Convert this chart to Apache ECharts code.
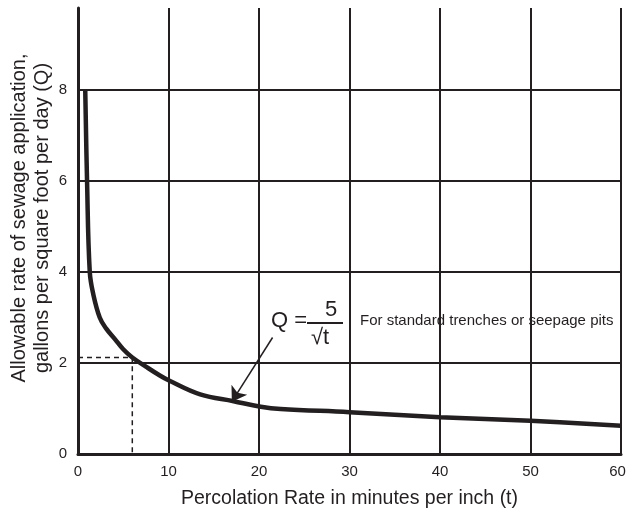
<!DOCTYPE html>
<html>
<head>
<meta charset="utf-8">
<script src="https://cdn.jsdelivr.net/npm/echarts@6/dist/echarts.min.js"></script>
<style>
  html, body { margin: 0; padding: 0; background: #fff; }
  #chart { width: 626px; height: 512px; }
</style>
</head>
<body>
<div id="chart"></div>
<script>
// curve: percolation rate t vs allowable rate Q
const tValues = [0.8, 1.0, 1.3, 1.7, 2.4, 3.1, 4.1, 5.0, 6.0, 7.5, 9, 10, 13.5, 17.2, 20.2, 22.4, 30, 40, 50, 60];
const qValues = [8, 6, 4, 3.5, 3.0, 2.76, 2.52, 2.3, 2.12, 1.92, 1.73, 1.62, 1.31, 1.16, 1.04, 0.99, 0.92, 0.81, 0.73, 0.62];

// dashed guide at t = 6
const guideT = [0, 6, 6];
const guideQ = [2.12, 2.12, 0];

// annotation arrow (from label to curve)
const arrowFrom = [21.5, 2.56];
const arrowTo = [17, 1.15];

const xTicks = [0, 10, 20, 30, 40, 50, 60];
const yTicks = [0, 2, 4, 6, 8];

const ink = "#231f20";
const font = "Liberation Sans";

const zip = (a, b) => a.map((v, i) => [v, b[i]]);
const xMax = xTicks[xTicks.length - 1];

const chart = echarts.init(document.getElementById("chart"));
chart.setOption({
  animation: false,
  backgroundColor: "#fff",
  textStyle: { fontFamily: font, color: ink },
  grid: { left: 78, right: 5, top: 8, bottom: 58, outerBoundsMode: "none", containLabel: false },
  xAxis: {
    type: "value",
    min: xTicks[0],
    max: xMax,
    interval: 10,
    name: "Percolation Rate in minutes per inch (t)",
    nameLocation: "middle",
    nameGap: 35,
    nameTextStyle: { fontSize: 19.5, color: ink, fontFamily: font },
    axisLine: { lineStyle: { color: ink, width: 3 } },
    axisTick: { show: false },
    axisLabel: {
      fontSize: 15, color: ink, margin: 10, fontFamily: font,
      formatter: (v) => (v === xMax ? "{r|" + v + "}" : String(v)),
      rich: { r: { fontSize: 15, fontFamily: font, color: ink, padding: [0, 7, 0, 0] } },
    },
    splitLine: { show: true, lineStyle: { color: ink, width: 2 } },
  },
  yAxis: {
    type: "value",
    min: yTicks[0],
    max: 9.8,
    interval: 2,
    axisLine: { show: true, lineStyle: { color: ink, width: 3 } },
    axisTick: { show: false },
    axisLabel: { fontSize: 15, color: ink, margin: 11, fontFamily: font, showMaxLabel: false },
    splitLine: { show: true, showMaxLine: false, lineStyle: { color: ink, width: 2 } },
  },
  graphic: [
    {
      type: "text",
      x: 19, y: 218, rotation: Math.PI / 2,
      style: {
        text: "Allowable rate of sewage application,",
        font: "20px " + font, fill: ink, align: "center", verticalAlign: "middle",
      },
    },
    {
      type: "text",
      x: 42, y: 218, rotation: Math.PI / 2,
      style: {
        text: "gallons per square foot per day (Q)",
        font: "20px " + font, fill: ink, align: "center", verticalAlign: "middle",
      },
    },
    {
      type: "text", x: 271, y: 321,
      style: { text: "Q =", font: "22px " + font, fill: ink, align: "left", verticalAlign: "middle" },
    },
    {
      type: "text", x: 331, y: 310,
      style: { text: "5", font: "22px " + font, fill: ink, align: "center", verticalAlign: "middle" },
    },
    {
      type: "line",
      shape: { x1: 307, y1: 323, x2: 343, y2: 323 },
      style: { stroke: ink, lineWidth: 2 },
    },
    {
      type: "text", x: 320, y: 338,
      style: { text: "\u221At", font: "22px " + font, fill: ink, align: "center", verticalAlign: "middle" },
    },
    {
      type: "text", x: 360, y: 321,
      style: {
        text: "For standard trenches or seepage pits",
        font: "15px " + font, fill: ink, align: "left", verticalAlign: "middle",
      },
    },
  ],
  series: [
    {
      type: "line",
      data: zip(guideT, guideQ),
      showSymbol: false,
      lineStyle: { color: ink, width: 1.5, type: [5, 4] },
      z: 3,
    },
    {
      type: "line",
      data: zip(tValues, qValues),
      smooth: 0.4,
      showSymbol: false,
      lineStyle: { color: ink, width: 4.5 },
      z: 4,
    },
    {
      type: "lines",
      coordinateSystem: "cartesian2d",
      data: [{ coords: [arrowFrom, arrowTo] }],
      symbol: ["none", "arrow"],
      symbolSize: [8, 14],
      lineStyle: { color: ink, width: 1.5, opacity: 1 },
      z: 5,
    },
  ],
});
</script>
</body>
</html>
